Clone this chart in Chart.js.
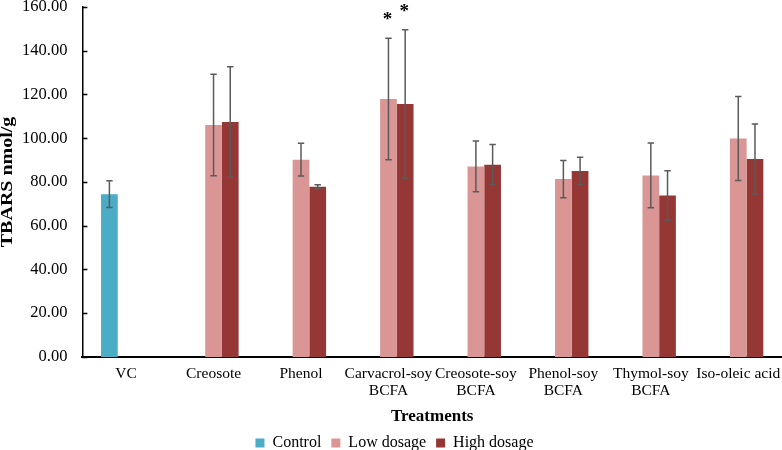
<!DOCTYPE html>
<html><head><meta charset="utf-8">
<script src="https://cdn.jsdelivr.net/npm/chart.js@4"></script>
<style>html,body{margin:0;padding:0;background:#fff}#wrap{width:782px;height:450px;position:relative}</style>
</head><body><div id="wrap"><canvas id="c"></canvas></div>
<script>
const categories = ['VC', 'Creosote', 'Phenol', ['Carvacrol-soy', 'BCFA'], ['Creosote-soy', 'BCFA'], ['Phenol-soy', 'BCFA'], ['Thymol-soy', 'BCFA'], 'Iso-oleic acid'];
const seriesNames = ['Control', 'Low dosage', 'High dosage'];
const controlValues = [74.4, null, null, null, null, null, null, null];
const controlErrors = [6.1, null, null, null, null, null, null, null];
const lowValues = [null, 106.0, 90.2, 117.9, 87.1, 81.3, 83.0, 99.9];
const lowErrors = [null, 23.2, 7.5, 27.8, 11.6, 8.5, 14.8, 19.2];
const highValues = [null, 107.4, 77.8, 115.6, 87.9, 85.0, 73.8, 90.5];
const highErrors = [null, 25.3, 0.9, 34.0, 9.2, 6.3, 11.3, 16.0];
const lowMarks = ['', '', '', '*', '', '', '', ''];
const highMarks = ['', '', '', '*', '', '', '', ''];
const yTicks = [0, 20, 40, 60, 80, 100, 120, 140, 160];
const yTitle = 'TBARS nmol/g';
const xTitle = 'Treatments';

const FONT = '"Liberation Serif", "Times New Roman", serif';
const errors = [controlErrors, lowErrors, highErrors];
const marks = [null, lowMarks, highMarks];

const errorBars = {
  id: 'errorBars',
  afterDatasetsDraw(chart) {
    const ctx = chart.ctx, y = chart.scales.y;
    ctx.save();
    chart.data.datasets.forEach((ds, i) => {
      const meta = chart.getDatasetMeta(i);
      meta.data.forEach((bar, j) => {
        const v = ds.data[j], e = errors[i][j];
        if (v == null || e == null) return;
        const x = bar.x;
        const yt = y.getPixelForValue(v + e), yb = y.getPixelForValue(v - e);
        ctx.strokeStyle = '#5a5a5a';
        ctx.lineWidth = 1.5;
        ctx.beginPath();
        ctx.moveTo(x, yt); ctx.lineTo(x, yb);
        ctx.moveTo(x - 3.2, yt); ctx.lineTo(x + 3.2, yt);
        ctx.moveTo(x - 3.2, yb); ctx.lineTo(x + 3.2, yb);
        ctx.stroke();
        const m = marks[i] && marks[i][j];
        if (m) {
          ctx.fillStyle = '#000';
          ctx.font = 'bold 19px ' + FONT;
          ctx.textAlign = 'center';
          ctx.textBaseline = 'alphabetic';
          ctx.fillText(m, x - 1, yt - 13);
        }
      });
    });
    ctx.restore();
  }
};

const axisExtras = {
  id: 'axisExtras',
  afterDraw(chart) {
    const ctx = chart.ctx, y = chart.scales.y, a = chart.chartArea;
    ctx.save();
    ctx.strokeStyle = '#000';
    ctx.lineWidth = 1.5;
    ctx.beginPath();
    yTicks.forEach(t => {
      const py = Math.round(y.getPixelForValue(t)) + 0.5;
      ctx.moveTo(a.left, py); ctx.lineTo(a.left + 5, py);
    });
    ctx.stroke();
    ctx.translate(8, (a.top + a.bottom) / 2);
    ctx.rotate(-Math.PI / 2);
    ctx.scale(1.25, 1);
    ctx.fillStyle = '#000';
    ctx.font = 'bold 16px ' + FONT;
    ctx.textAlign = 'center';
    ctx.textBaseline = 'middle';
    ctx.fillText(yTitle, 0, 0);
    ctx.restore();
  }
};

new Chart(document.getElementById('c'), {
  type: 'bar',
  data: {
    labels: categories,
    datasets: [
      { label: seriesNames[0], data: controlValues, backgroundColor: '#4bacc6' },
      { label: seriesNames[1], data: lowValues, backgroundColor: '#d99694' },
      { label: seriesNames[2], data: highValues, backgroundColor: '#953735' }
    ]
  },
  options: {
    responsive: true,
    maintainAspectRatio: false,
    animation: false,
    datasets: { bar: { categoryPercentage: 0.573, barPercentage: 1 } },
    layout: { padding: { left: 7, right: 0, top: 0, bottom: -11 } },
    plugins: {
      tooltip: { enabled: false },
      legend: {
        position: 'bottom',
        labels: {
          font: { family: FONT, size: 16 },
          color: '#000',
          boxWidth: 9,
          boxHeight: 9,
          padding: 10
        }
      }
    },
    scales: {
      x: {
        afterFit(scale) { scale.paddingLeft = 0; scale.paddingRight = 0; },
        grid: { display: false, drawTicks: false },
        border: { display: true, color: '#000', width: 2 },
        ticks: { font: { family: FONT, size: 15.5, lineHeight: 1.1 }, color: '#000', padding: 8, maxRotation: 0, autoSkip: false },
        title: { display: true, text: xTitle, color: '#000', font: { family: FONT, size: 17, weight: 'bold', lineHeight: 1 }, padding: { top: 1, bottom: 0 } }
      },
      y: {
        min: 0, max: 160,
        afterBuildTicks(scale) { scale.ticks = yTicks.map(v => ({ value: v })); },
        afterFit(scale) { scale.paddingTop = 7; },
        grid: { display: false, drawTicks: false },
        border: { display: true, color: '#000', width: 1.5 },
        ticks: { font: { family: FONT, size: 16.5 }, color: '#000', padding: 15, callback: v => Number(v).toFixed(2) }
      }
    }
  },
  plugins: [errorBars, axisExtras]
});
</script>
</body></html>
